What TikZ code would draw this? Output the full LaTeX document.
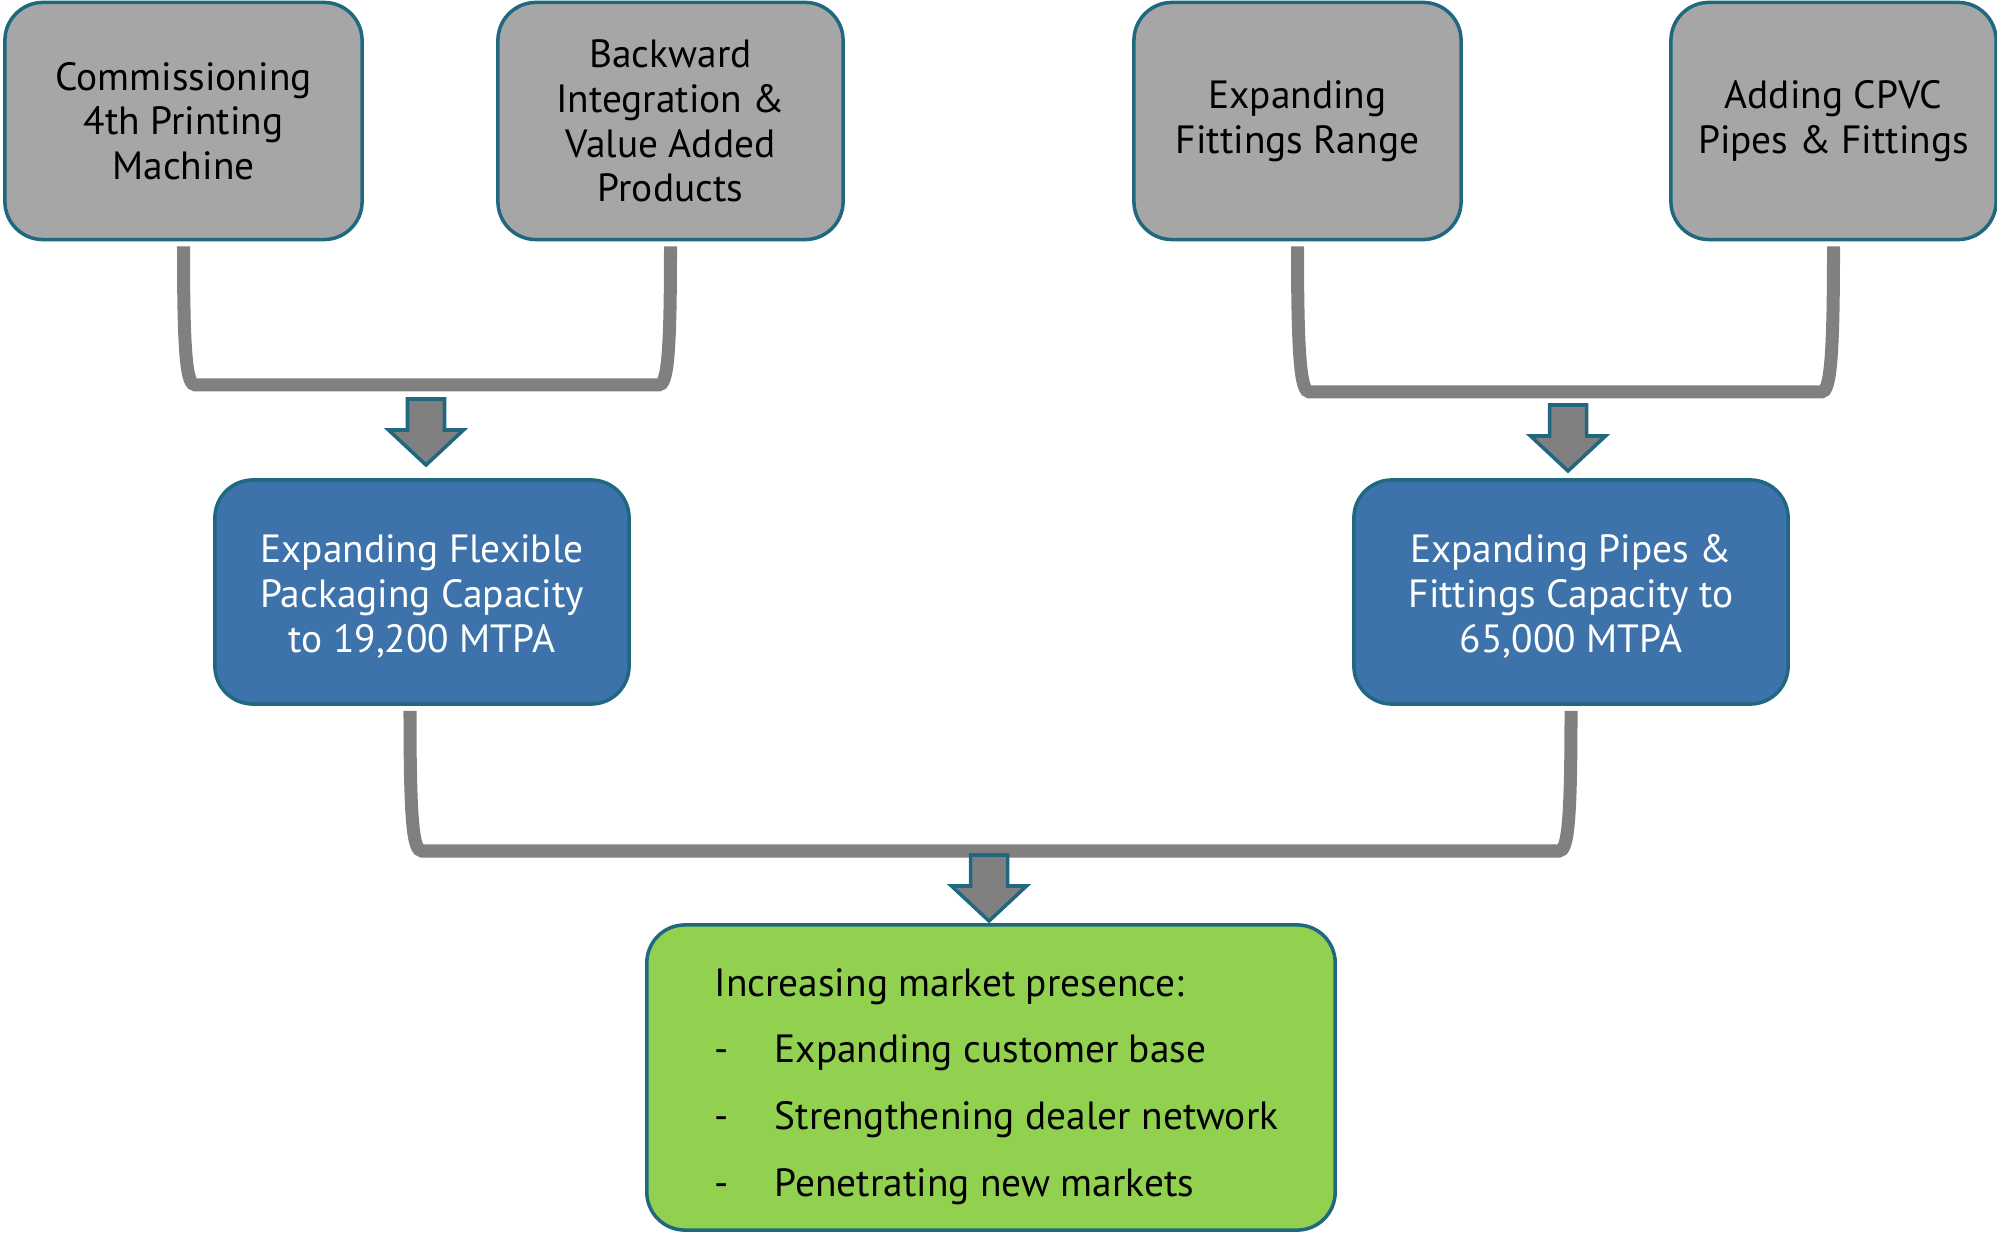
\documentclass[tikz,border=0pt]{standalone}
\usepackage{fontspec}
\setmainfont{PT Sans}
\usetikzlibrary{calc}
\definecolor{boxgray}{RGB}{166,166,166}
\definecolor{boxblue}{RGB}{61,114,170}
\definecolor{boxgreen}{RGB}{146,208,80}
\definecolor{linkgray}{RGB}{128,128,128}
\definecolor{edgeteal}{RGB}{31,104,128}

\begin{document}
\begin{tikzpicture}[x=0.01cm,y=-0.01cm,
  topbox/.style={draw=edgeteal,line width=1pt,fill=boxgray,rounded corners=0.38cm,
    align=center,font=\fontsize{11.2}{12.7}\selectfont,minimum height=2.37cm},
  midbox/.style={topbox,fill=boxblue,text=white,minimum height=2.24cm},
  link/.style={draw=linkgray,line width=0.13cm},
  blockarrow/.style={draw=edgeteal,line width=1pt,fill=linkgray}]
\useasboundingbox (0,0) rectangle (1997,1234);

\node [topbox,minimum width=3.57cm] (commission) at (183.5,121) {Commissioning\\4th Printing\\Machine};
\node [topbox,minimum width=3.45cm] (backward) at (670.5,121) {Backward\\Integration \&\\Value Added\\Products};
\node [topbox,minimum width=3.27cm] (fittings) at (1297.5,121) {Expanding\\Fittings Range};
\node [topbox,minimum width=3.25cm] (cpvc) at (1833.5,121) {Adding CPVC\\Pipes \& Fittings};

\node [midbox,minimum width=4.14cm] (flexible) at (422,592) {\\[-0.08cm]Expanding Flexible\\Packaging Capacity\\to 19,200 MTPA};
\node [midbox,minimum width=4.34cm] (pipes) at (1571,592) {\\[-0.08cm]Expanding Pipes \&\\Fittings Capacity to\\65,000 MTPA};

\node [topbox,fill=boxgreen,minimum width=6.88cm,minimum height=3.05cm] (market) at (991,1077.5) {};
\node [anchor=west,inner sep=0pt,align=left,font=\fontsize{11.2}{19}\selectfont]
  (markettext) at (714,1086.5) {Increasing market presence:\\
  \makebox[0.6cm][l]{-}Expanding customer base\\
  \makebox[0.6cm][l]{-}Strengthening dealer network\\
  \makebox[0.6cm][l]{-}Penetrating new markets};

\draw [link] ([yshift=-0.05cm]commission.south) .. controls +(0,110) and +(-9,0) .. ($(commission.south |- 0,385)+(12,0)$)
  -- ($(backward.south |- 0,385)+(-12,0)$) .. controls +(9,0) and +(0,110) .. ([yshift=-0.05cm]backward.south);
\draw [link] ([yshift=-0.05cm]fittings.south) .. controls +(0,110) and +(-9,0) .. ($(fittings.south |- 0,392)+(12,0)$)
  -- ($(cpvc.south |- 0,392)+(-12,0)$) .. controls +(9,0) and +(0,110) .. ([yshift=-0.05cm]cpvc.south);
\draw [link] ([xshift=-0.12cm,yshift=-0.05cm]flexible.south) .. controls +(0,110) and +(-9,0) .. ($(flexible.south |- 0,851)+(0,0)$)
  -- ($(pipes.south |- 0,851)+(-12,0)$) .. controls +(9,0) and +(0,110) .. ([yshift=-0.05cm]pipes.south);

\coordinate (arrowleft) at (426,399);
\coordinate (arrowright) at (1568,405);
\coordinate (arrowdown) at (989,855);
\foreach \a in {arrowleft,arrowright,arrowdown}
  \draw [blockarrow] (\a) ++(-18.5,0) -- ++(37,0) -- ++(0,31) -- ++(19,0)
    -- ++(-37.5,35) -- ++(-37.5,-35) -- ++(19,0) -- cycle;
\end{tikzpicture}
\end{document}
